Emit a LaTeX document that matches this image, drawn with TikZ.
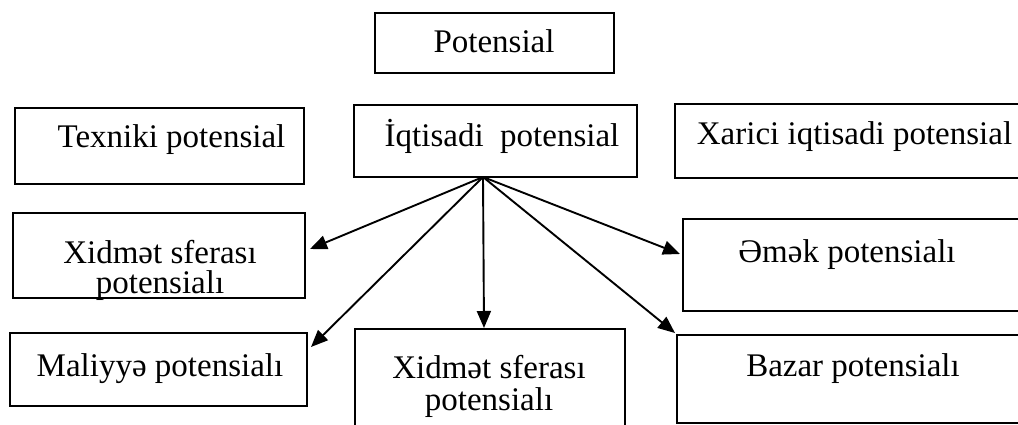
\documentclass[tikz,border=0pt]{standalone}
\usepackage{fontspec}
\setmainfont{Liberation Serif}
\usetikzlibrary{arrows.meta}
\tikzset{
  boxnode/.style={draw=black, line width=2pt, inner sep=0pt, rectangle},
  label/.style={anchor=base, inner sep=0pt, font=\fontsize{33}{35}\selectfont},
  arr/.style={line width=1.9pt, -{Triangle[length=17pt,width=14pt]}}
}
\begin{document}
\begin{tikzpicture}[x=1pt,y=-1pt]
\useasboundingbox (0,0) rectangle (1018,425);
\fill[white] (0,0) rectangle (1018,425);
\clip (0,0) rectangle (1018,425);
% boxes
\node[boxnode, minimum width=239pt, minimum height=60pt] (pot) at (494.5,43) {};
\node[boxnode, minimum width=283pt, minimum height=72pt] (iqt) at (495.5,141) {};
\node[boxnode, minimum width=289pt, minimum height=76pt] (tex) at (159.5,146) {};
\node[boxnode, minimum width=345pt, minimum height=74pt] (xar) at (847.5,141) {};
\node[boxnode, minimum width=292pt, minimum height=85pt] (xs1) at (159,255.5) {};
\node[boxnode, minimum width=337pt, minimum height=92pt] (emk) at (851.5,265) {};
\node[boxnode, minimum width=297pt, minimum height=73pt] (mal) at (158.5,369.5) {};
\node[boxnode, minimum width=270pt, minimum height=116pt] (xs2) at (490,387) {};
\node[boxnode, minimum width=343pt, minimum height=88pt] (baz) at (848.5,379) {};
% texts
\node[label] (potT) at (494,53) {Potensial};
\node[label] (iqtT) at (502,147) {İqtisadi\ \ potensial};
\node[label] (texT) at (171.5,148) {Texniki potensial};
\node[label] (xarT) at (854.5,145) {Xarici iqtisadi potensial};
\node[label] (xs1a) at (160,263) {Xidmət sferası};
\node[label] (xs1b) at (160,293) {potensialı};
\node[label] (emkT) at (847,262) {Əmək potensialı};
\node[label] (malT) at (160,376) {Maliyyə potensialı};
\node[label] (xs2a) at (489,378) {Xidmət sferası};
\node[label] (xs2b) at (489,410) {potensialı};
\node[label] (bazT) at (853,376) {Bazar potensialı};
% connectors
\coordinate (o) at (483,177);
\coordinate (t1) at (310,249);
\coordinate (t2) at (311,347);
\coordinate (t3) at (484,328);
\coordinate (t4) at (675,333);
\coordinate (t5) at (680,254);
\draw[arr] (o) -- (t1);
\draw[arr] (o) -- (t2);
\draw[arr] (o) -- (t3);
\draw[arr] (o) -- (t4);
\draw[arr] (o) -- (t5);
\end{tikzpicture}
\end{document}
